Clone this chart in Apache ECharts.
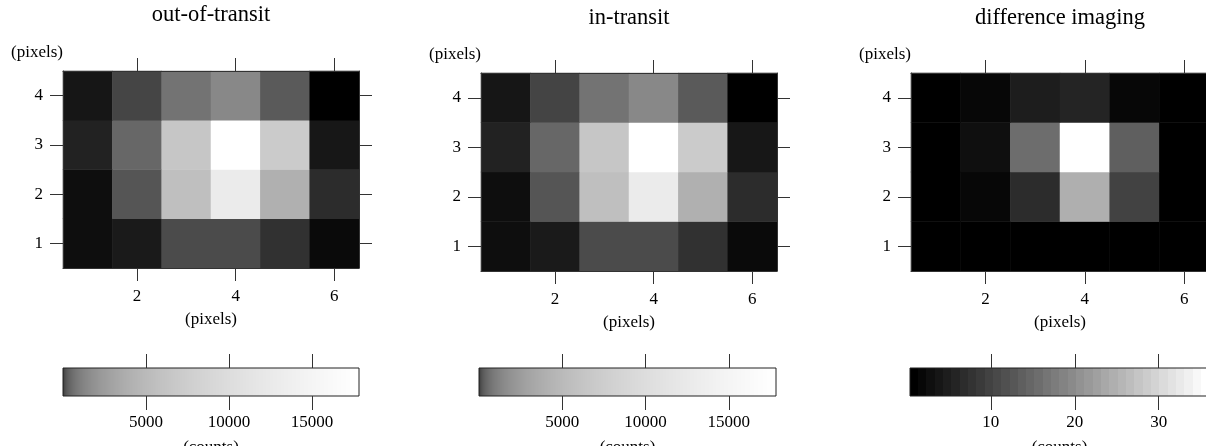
<!DOCTYPE html>
<html><head><meta charset="utf-8">
<script src="https://cdn.jsdelivr.net/npm/echarts@6/dist/echarts.min.js"></script>
<style>html,body{margin:0;padding:0;background:#fff}#c{width:1206px;height:446px}</style>
</head><body><div id="c"></div>
<script>
// ---- data ----
const xCategories = ['1', '2', '3', '4', '5', '6'];
const yCategories = ['1', '2', '3', '4'];
const panelTitles = ['out-of-transit', 'in-transit', 'difference imaging'];
// rows: y = 1 (bottom) .. 4 (top); columns: x = 1 .. 6  (counts)
const outOfTransit = [
  [0.2, 1.9, 133, 133, 24, 0.06],
  [0.16, 220, 5600, 12840, 4040, 17],
  [5.6, 474, 6470, 17800, 7150, 1.2],
  [1.0, 95, 737, 1440, 276, 0]
];
const inTransit = [
  [0.2, 1.9, 133, 132, 24, 0.06],
  [0.16, 218, 5593, 12815, 4031, 17],
  [5.6, 472, 6455, 17764, 7136, 1.2],
  [1.0, 94, 733, 1435, 275, 0]
];
const difference = [
  [0.4, 0.4, 0.4, 1.1, 0.6, 0.4],
  [0.4, 1.6, 6.6, 24.5, 9.3, 0.4],
  [0.4, 2.4, 15.9, 36.0, 14.1, 0.4],
  [0.4, 1.5, 4.4, 5.5, 1.6, 0.4]
];
const countsRange = [0, 17830];
const diffRange = [0.36, 36];
const countsTicks = [5000, 10000, 15000];
const diffTicks = [10, 20, 30];
const pixelLabel = '(pixels)';
const countsLabel = '(counts)';

// ---- helpers ----
const FONT = 'Liberation Serif';
const INK = '#333';
function toCells(rows) {
  const out = [];
  rows.forEach((row, r) => row.forEach((v, c) => out.push([c, r, v])));
  return out;
}
function grayColor(k, levels) {
  const g = Math.round(255 * k / (levels - 1));
  return 'rgb(' + g + ',' + g + ',' + g + ')';
}
function buildPieces(range, levels, gamma) {
  const lo = range[0], hi = range[1], pieces = [];
  for (let k = 0; k < levels; k++) {
    const a = lo + (hi - lo) * Math.pow(k / levels, 1 / gamma);
    const b = lo + (hi - lo) * Math.pow((k + 1) / levels, 1 / gamma);
    const p = { gte: a, color: grayColor(k, levels) };
    if (k === levels - 1) p.lte = b; else p.lt = b;
    pieces.push(p);
  }
  return pieces;
}
function buildGradient(levels, gamma) {
  const stops = [];
  for (let k = 0; k < levels; k++) {
    const c = grayColor(k, levels);
    stops.push({ offset: Math.pow(k / levels, 1 / gamma), color: c });
    stops.push({ offset: Math.pow((k + 1) / levels, 1 / gamma), color: c });
  }
  return { type: 'linear', x: 0, y: 0, x2: 1, y2: 0, colorStops: stops };
}

const panels = [
  { rows: outOfTransit, range: countsRange, ticks: countsTicks, levels: 256, gamma: 0.25,
    map: { left: 63, top: 71, width: 296, height: 197 }, bar: { left: 63, top: 368, width: 296, height: 28 }, titleTop: 4, nameGap: 10 },
  { rows: inTransit, range: countsRange, ticks: countsTicks, levels: 256, gamma: 0.25,
    map: { left: 481, top: 73, width: 296, height: 198 }, bar: { left: 479, top: 368, width: 297, height: 28 }, titleTop: 7, nameGap: 10 },
  { rows: difference, range: diffRange, ticks: diffTicks, levels: 36, gamma: 1,
    map: { left: 911, top: 73, width: 298, height: 198 }, bar: { left: 910, top: 368, width: 299, height: 28 }, titleTop: 7, nameGap: 10 }
];

const grid = [], xAxis = [], yAxis = [], series = [], visualMap = [], title = [];
const labelStyle = { fontFamily: FONT, fontSize: 17, color: '#000' };
const tickStyle = { color: INK, width: 1 };

panels.forEach((p, i) => {
  const gMap = grid.length;
  grid.push(Object.assign({ containLabel: false, outerBoundsMode: 'none' }, p.map));
  const gBar = grid.length;
  grid.push(Object.assign({ containLabel: false, outerBoundsMode: 'none', show: true, borderColor: '#222', borderWidth: 1,
    backgroundColor: buildGradient(p.levels, p.gamma) }, p.bar));

  title.push({ text: panelTitles[i], left: p.map.left + p.map.width / 2, textAlign: 'center',
    top: p.titleTop, padding: 0, textStyle: { fontFamily: FONT, fontSize: 22.5, fontWeight: 'normal', color: '#000' } });

  // heatmap axes
  const xb = xAxis.length;
  xAxis.push({ type: 'category', data: xCategories, gridIndex: gMap, position: 'bottom', z: 5,
    axisLine: { show: true, onZero: false, lineStyle: tickStyle },
    axisTick: { show: true, alignWithLabel: true, length: 13, interval: (idx) => idx % 2 === 1, lineStyle: tickStyle },
    axisLabel: Object.assign({ interval: (idx) => idx % 2 === 1, margin: 20 }, labelStyle),
    name: pixelLabel, nameLocation: 'middle', nameGap: 43, nameTextStyle: labelStyle, splitLine: { show: false } });
  xAxis.push({ type: 'category', data: xCategories, gridIndex: gMap, position: 'top', z: 5,
    axisLine: { show: true, onZero: false, lineStyle: tickStyle },
    axisTick: { show: true, alignWithLabel: true, length: 13, interval: (idx) => idx % 2 === 1, lineStyle: tickStyle },
    axisLabel: { show: false }, splitLine: { show: false } });
  const yl = yAxis.length;
  yAxis.push({ type: 'category', data: yCategories, gridIndex: gMap, position: 'left', z: 5,
    axisLine: { show: true, onZero: false, lineStyle: tickStyle },
    axisTick: { show: true, alignWithLabel: true, length: 13, lineStyle: tickStyle },
    axisLabel: Object.assign({ margin: 20 }, labelStyle),
    name: pixelLabel, nameLocation: 'end', nameGap: p.nameGap,
    nameTextStyle: Object.assign({ align: 'right', verticalAlign: 'bottom' }, labelStyle), splitLine: { show: false } });
  yAxis.push({ type: 'category', data: yCategories, gridIndex: gMap, position: 'right', z: 5,
    axisLine: { show: true, onZero: false, lineStyle: tickStyle },
    axisTick: { show: true, alignWithLabel: true, length: 13, lineStyle: tickStyle },
    axisLabel: { show: false }, splitLine: { show: false } });

  // colour bar axes
  xAxis.push({ type: 'value', gridIndex: gBar, position: 'bottom', min: p.range[0], max: p.range[1], z: 5,
    axisLine: { show: false, onZero: false },
    axisTick: { show: true, length: 14, customValues: p.ticks, lineStyle: tickStyle },
    axisLabel: Object.assign({ customValues: p.ticks, margin: 18, formatter: (v) => String(v) }, labelStyle),
    name: countsLabel, nameLocation: 'middle', nameGap: 43, nameTextStyle: labelStyle, splitLine: { show: false } });
  xAxis.push({ type: 'value', gridIndex: gBar, position: 'top', min: p.range[0], max: p.range[1], z: 5,
    axisLine: { show: false, onZero: false },
    axisTick: { show: true, length: 14, customValues: p.ticks, lineStyle: tickStyle },
    axisLabel: { show: false }, splitLine: { show: false } });
  yAxis.push({ type: 'value', gridIndex: gBar, min: 0, max: 1, show: false });

  series.push({ type: 'heatmap', xAxisIndex: xb, yAxisIndex: yl, data: toCells(p.rows),
    itemStyle: { borderWidth: 0 }, emphasis: { disabled: true }, progressive: 0, animation: false });
  visualMap.push({ type: 'piecewise', show: false, seriesIndex: i, dimension: 2,
    pieces: buildPieces(p.range, p.levels, p.gamma) });
});

const chart = echarts.init(document.getElementById('c'), null, { renderer: 'canvas' });
chart.setOption({ animation: false, backgroundColor: '#fff', title, grid, xAxis, yAxis, series, visualMap });
</script></body></html>
